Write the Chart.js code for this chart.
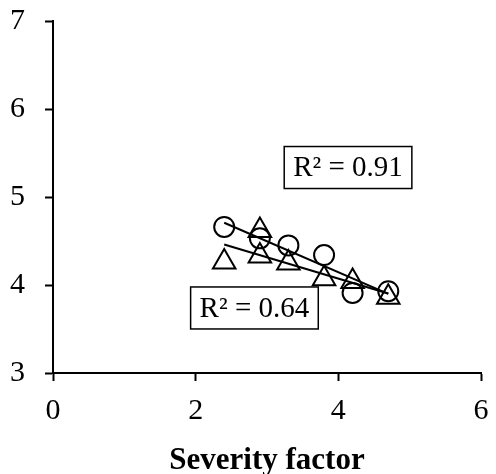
<!DOCTYPE html>
<html>
<head>
<meta charset="utf-8">
<script src="https://cdn.jsdelivr.net/npm/chart.js@4.4.1/dist/chart.umd.min.js"></script>
<style>
  html, body { margin: 0; padding: 0; background: #fff; }
  #wrap { width: 496px; height: 474px; }
</style>
</head>
<body>
<div id="wrap"><canvas id="chart" width="496" height="474"></canvas></div>
<script>
const circleX = [2.4, 2.9, 3.3, 3.8, 4.2, 4.7];
const circleY = [4.66, 4.53, 4.45, 4.34, 3.91, 3.93];
const triangleX = [2.4, 2.9, 2.9, 3.3, 3.8, 4.2, 4.7];
const triangleY = [4.26, 4.62, 4.33, 4.25, 4.07, 4.04, 3.86];
const xTicks = [0, 2, 4, 6];
const yTicks = [3, 4, 5, 6, 7];
const r2Texts = ["R\u00b2 = 0.91", "R\u00b2 = 0.64"];

// where the R² boxes sit, in axis units
const r2Anchors = [
  { x: 4.136, y: 5.335 },
  { x: 2.824, y: 3.739 },
];

const FONT = "'Liberation Serif', 'Times New Roman', serif";

function toPoints(xs, ys) {
  return xs.map((x, i) => ({ x, y: ys[i] }));
}

// least squares line, drawn between the smallest and largest x
function trend(xs, ys) {
  const n = xs.length;
  const mx = xs.reduce((a, b) => a + b, 0) / n;
  const my = ys.reduce((a, b) => a + b, 0) / n;
  let sxy = 0, sxx = 0;
  for (let i = 0; i < n; i++) {
    sxy += (xs[i] - mx) * (ys[i] - my);
    sxx += (xs[i] - mx) ** 2;
  }
  const slope = sxy / sxx;
  const x0 = Math.min(...xs), x1 = Math.max(...xs);
  return [
    { x: x0, y: my + slope * (x0 - mx) },
    { x: x1, y: my + slope * (x1 - mx) },
  ];
}

const r2Boxes = {
  id: "r2Boxes",
  afterDatasetsDraw(chart) {
    const { ctx, scales } = chart;
    ctx.save();
    ctx.font = "29px " + FONT;
    ctx.textAlign = "center";
    ctx.textBaseline = "middle";
    r2Texts.forEach((txt, i) => {
      const cx = scales.x.getPixelForValue(r2Anchors[i].x);
      const cy = scales.y.getPixelForValue(r2Anchors[i].y);
      const w = ctx.measureText(txt).width + 18;
      const h = 42;
      ctx.fillStyle = "#fff";
      ctx.fillRect(cx - w / 2, cy - h / 2, w, h);
      ctx.strokeStyle = "#000";
      ctx.lineWidth = 1.5;
      ctx.strokeRect(cx - w / 2, cy - h / 2, w, h);
      ctx.fillStyle = "#000";
      ctx.fillText(txt, cx, cy + 1);
    });
    ctx.restore();
  },
};

const tickFont = { family: FONT, size: 30 };

new Chart(document.getElementById("chart"), {
  type: "scatter",
  data: {
    datasets: [
      {
        label: "circles",
        data: toPoints(circleX, circleY),
        pointStyle: "circle",
        pointRadius: 10,
        pointBorderWidth: 2,
        borderColor: "#000",
        backgroundColor: "rgba(0,0,0,0)",
      },
      {
        label: "triangles",
        data: toPoints(triangleX, triangleY),
        pointStyle: "triangle",
        pointRadius: 13,
        pointBorderWidth: 2,
        borderColor: "#000",
        backgroundColor: "rgba(0,0,0,0)",
      },
      {
        type: "line",
        label: "circle trend",
        data: trend(circleX, circleY),
        borderColor: "#000",
        borderWidth: 2,
        pointRadius: 0,
        fill: false,
      },
      {
        type: "line",
        label: "triangle trend",
        data: trend(triangleX, triangleY),
        borderColor: "#000",
        borderWidth: 2,
        pointRadius: 0,
        fill: false,
      },
    ],
  },
  options: {
    responsive: false,
    animation: false,
    layout: { padding: { top: 21, right: 3, bottom: 0, left: 0 } },
    plugins: {
      legend: { display: false },
      tooltip: { enabled: false },
    },
    scales: {
      x: {
        type: "linear",
        min: 0,
        max: 6,
        afterBuildTicks: (s) => { s.ticks = xTicks.map((v) => ({ value: v })); },
        afterFit: (s) => {
          s.height = 101;
          s.paddingLeft = 0;
          s.paddingRight = 0;
        },
        border: { display: true, color: "#000", width: 2 },
        grid: { drawOnChartArea: false, drawTicks: true, tickLength: 8, tickColor: "#000", tickWidth: 2 },
        ticks: { color: "#000", font: tickFont, padding: 12, maxRotation: 0 },
        title: {
          display: true,
          text: "Severity factor",
          color: "#000",
          font: { family: FONT, size: 31, weight: "bold", lineHeight: 1 },
          padding: { top: 0, bottom: -2 },
        },
      },
      y: {
        type: "linear",
        min: 3,
        max: 7,
        afterBuildTicks: (s) => { s.ticks = yTicks.map((v) => ({ value: v })); },
        afterFit: (s) => {
          s.width = 53;
          s.paddingTop = 0;
          s.paddingBottom = 0;
        },
        border: { display: true, color: "#000", width: 2 },
        grid: { drawOnChartArea: false, drawTicks: true, tickLength: 8, tickColor: "#000", tickWidth: 2 },
        ticks: { color: "#000", font: tickFont, padding: 20 },
      },
    },
  },
  plugins: [r2Boxes],
});
</script>
</body>
</html>
